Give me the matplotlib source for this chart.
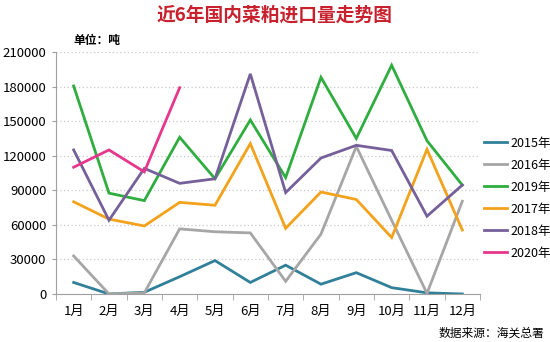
import matplotlib
matplotlib.use("Agg")
import matplotlib.pyplot as plt
import numpy as np

plt.rcParams["font.family"] = ["Noto Sans CJK SC", "DejaVu Sans"]

months = ["1月", "2月", "3月", "4月", "5月", "6月",
          "7月", "8月", "9月", "10月", "11月", "12月"]

# monthly rapeseed meal imports, tonnes
y2015 = [10000, 0, 1500, 15000, 29000, 10000, 25000, 8500, 18500, 5500, 1000, 0]
y2016 = [33000, 0, 1000, 56500, 54000, 53000, 11000, 52000, 128000, 64000, 500, 80500]
y2019 = [180500, 87500, 81000, 136000, 100000, 151000, 101000, 188000, 135000, 198500, 133000, 94500]
y2017 = [80000, 65000, 59000, 79500, 77000, 130500, 57000, 88500, 82000, 49000, 125500, 55500]
y2018 = [125000, 64000, 109000, 96000, 100000, 191000, 88000, 118000, 129000, 124500, 67500, 94500]
y2020 = [110000, 125000, 106000, 179000]

series = [
    ("2015年", y2015, "#31809a"),
    ("2016年", y2016, "#a6a6a6"),
    ("2019年", y2019, "#2fad3f"),
    ("2017年", y2017, "#f3a21c"),
    ("2018年", y2018, "#76609a"),
    ("2020年", y2020, "#e6378c"),
]

fig = plt.figure(figsize=(5.5, 3.42), dpi=100)
ax = fig.add_axes([0.1018, 0.1404, 0.7709, 0.7076])

for name, vals, color in series:
    ax.plot(np.arange(len(vals)), vals, color=color, lw=2.0, label=name,
            solid_joinstyle="miter")

ax.set_xlim(-0.5, 11.5)
ax.set_ylim(0, 210000)
ax.set_yticks(np.arange(0, 210001, 30000))
ax.set_xticks(np.arange(12))
ax.set_xticklabels(months)
ax.set_xticks(np.arange(-0.5, 12, 1), minor=True)
ax.tick_params(axis="x", which="major", length=0, pad=8, labelsize=9.5)
ax.tick_params(axis="x", which="minor", length=4, color="#a0a0a0")
ax.tick_params(axis="y", length=3, color="#a0a0a0", labelsize=9.5, pad=4)
ax.grid(axis="y", linestyle=(0, (1, 2)), color="#c8c8c8", lw=0.9)

for side in ("top", "right"):
    ax.spines[side].set_visible(False)
for side in ("left", "bottom"):
    ax.spines[side].set_color("#a0a0a0")

fig.legend(loc="upper left", bbox_to_anchor=(0.88, 0.6), frameon=False,
           fontsize=9, handlelength=1.85, handletextpad=0.25, labelspacing=0.72,
           borderpad=0, borderaxespad=0)

fig.text(0.5, 0.955, "近6年国内菜粕进口量走势图", ha="center", va="center",
         fontsize=13.5, fontweight="bold", color="#c8202c")
fig.text(0.133, 0.882, "单位：吨", ha="left", va="center", fontsize=8.5,
         fontweight="bold")
fig.text(0.99, 0.027, "数据来源：海关总署", ha="right", va="center", fontsize=8.5,
         style="italic")

fig.savefig("out.png", dpi=100)
